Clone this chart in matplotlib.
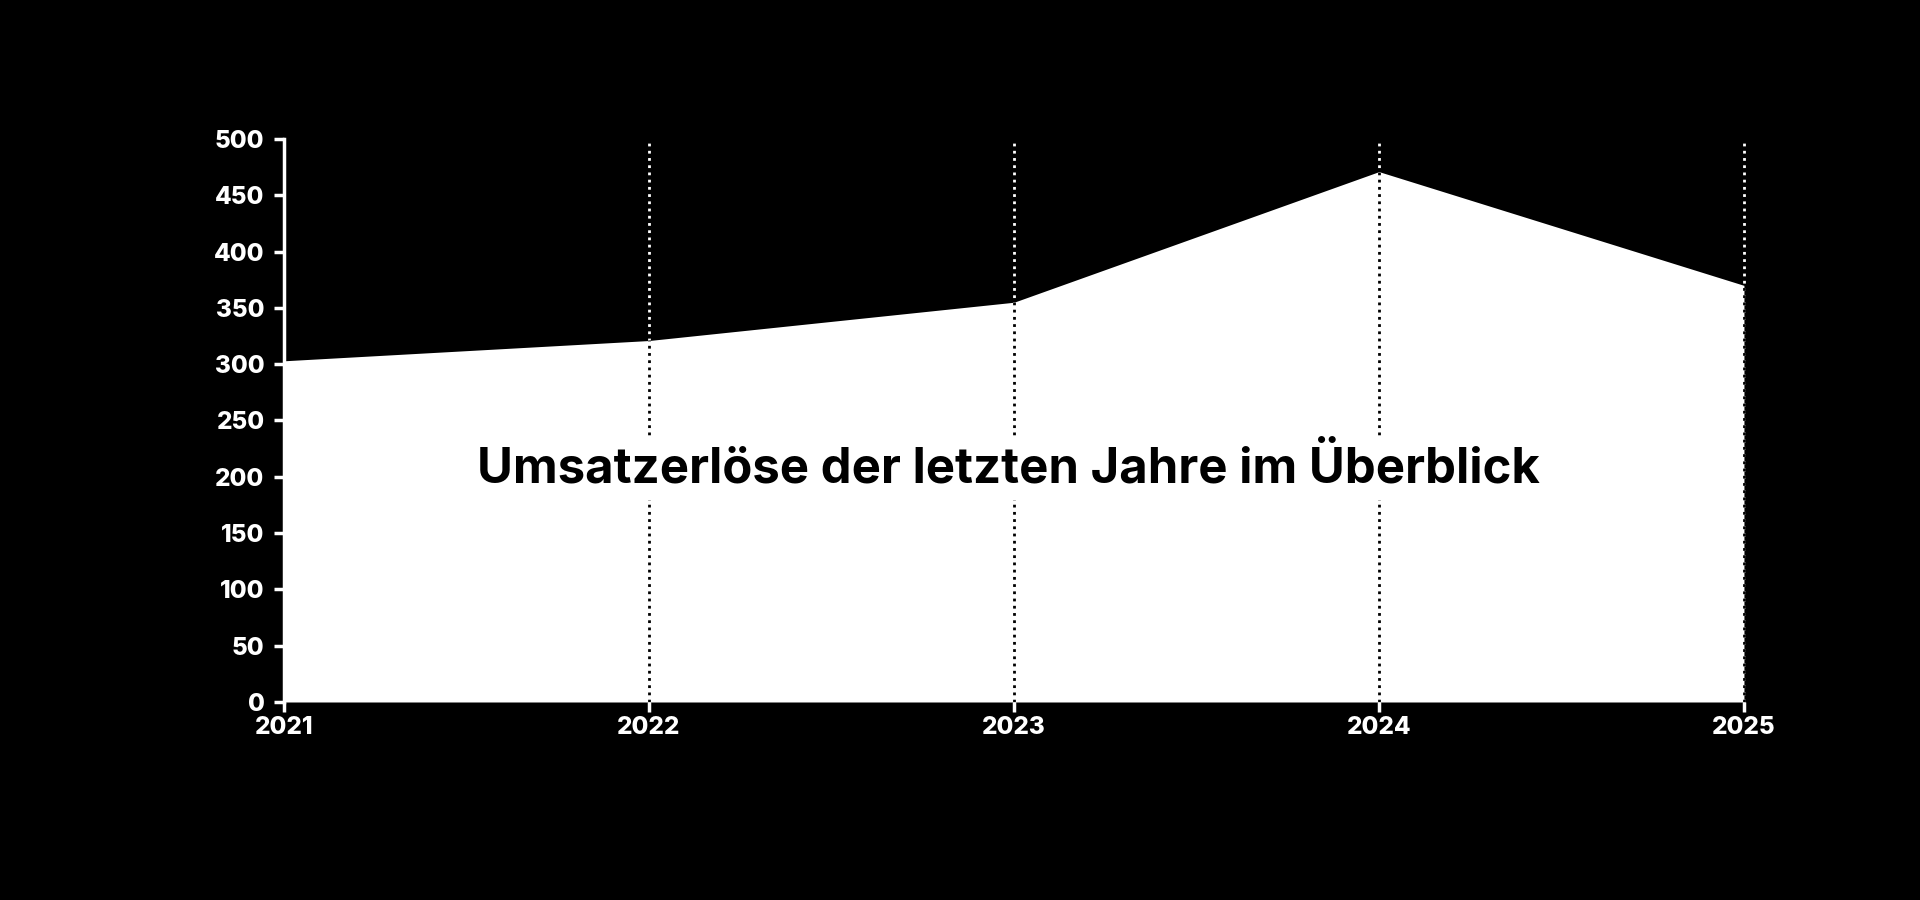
import matplotlib
matplotlib.use("Agg")
import matplotlib.pyplot as plt
from matplotlib.path import Path
import numpy as np

years = [2021, 2022, 2023, 2024, 2025]
revenue = [303, 321, 355, 471, 370]
y_ticks = [0, 50, 100, 150, 200, 250, 300, 350, 400, 450, 500]
title = "Umsatzerlöse der letzten Jahre im Überblick"

plt.rcParams['font.family'] = ['Inter', 'DejaVu Sans']
plt.rcParams['font.weight'] = 'bold'

fig = plt.figure(figsize=(19.2, 9), dpi=100, facecolor='black')
ax = fig.add_axes([0.1479, 0.22, 0.9083 - 0.1479, 0.8456 - 0.22])
ax.set_facecolor('black')

ax.set_xlim(years[0], years[-1])
ax.set_ylim(0, 500)

dots = (0, (1, 1.6))

# white dotted grid lines behind the area
for yr in years[1:]:
    ax.axvline(yr, color='white', lw=2, ls=dots, zorder=1, clip_on=False)

ax.fill_between(years, revenue, 0, color='white', lw=0, zorder=2)

# black dotted grid lines inside the area (clip to area, slightly widened at the right edge)
eps = 0.01
clip_verts = [(years[0], 0)] + list(zip(years, revenue)) + \
             [(years[-1] + eps, revenue[-1]), (years[-1] + eps, 0), (years[0], 0)]
clip_path = Path(clip_verts, closed=True)
for yr in years[1:]:
    ln = ax.axvline(yr, color='black', lw=2, ls=dots, zorder=3)
    ln.set_clip_path(clip_path, ax.transData)
    ln.set_clip_box(None)

ax.set_xticks(years)
ax.set_xticklabels([str(y) for y in years], fontweight='heavy', fontsize=17.5)
ax.set_yticks(y_ticks)
ax.set_yticklabels([str(v) for v in y_ticks], fontweight='heavy', fontsize=17.5)
ax.tick_params(colors='white', labelcolor='white', length=7, width=2.5)
ax.tick_params(axis='y', pad=7)
ax.tick_params(axis='x', pad=3)

for s in ['top', 'right', 'bottom']:
    ax.spines[s].set_visible(False)
ax.spines['left'].set_color('white')
ax.spines['left'].set_linewidth(2.5)
ax.spines['left'].set_zorder(5)

ax.text(0.496, 0.415, title, transform=ax.transAxes, ha='center', va='center',
        fontsize=35.3, fontweight='bold', color='black', zorder=6,
        bbox=dict(facecolor='white', edgecolor='none', pad=6))

fig.savefig('out.png', dpi=100, facecolor='black')
